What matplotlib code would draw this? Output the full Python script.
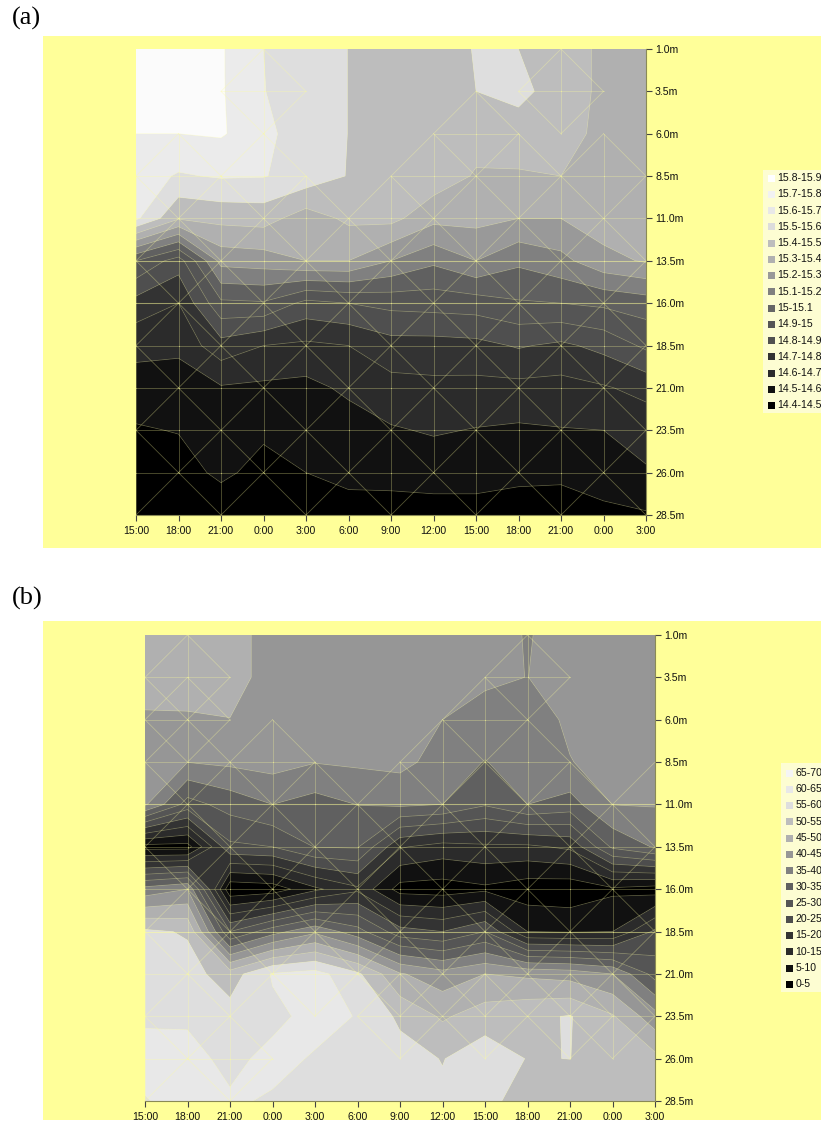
import numpy as np
import matplotlib
matplotlib.use("Agg")
from matplotlib import pyplot as plt
from matplotlib.patches import Rectangle

plt.rcParams['font.family'] = ['Liberation Sans', 'DejaVu Sans']

times = ["15:00", "18:00", "21:00", "0:00", "3:00", "6:00", "9:00", "12:00",
         "15:00", "18:00", "21:00", "0:00", "3:00"]
depths = [1.0, 3.5, 6.0, 8.5, 11.0, 13.5, 16.0, 18.5, 21.0, 23.5, 26.0, 28.5]
depth_labels = ["1.0m", "3.5m", "6.0m", "8.5m", "11.0m", "13.5m", "16.0m",
                "18.5m", "21.0m", "23.5m", "26.0m", "28.5m"]

# one list per time step, top to bottom in depth
temp_by_time = [
    [15.75, 15.75, 15.70, 15.65, 15.62, 15.0, 14.76, 14.63, 14.555, 14.49, 14.45, 14.42],
    [15.75, 15.75, 15.70, 15.59, 15.41, 14.85, 14.70, 14.63, 14.53, 14.505, 14.45, 14.42],
    [15.71, 15.71, 15.71, 15.61, 15.43, 15.235, 14.98, 14.76, 14.59, 14.53, 14.525, 14.42],
    [15.60, 15.605, 15.64, 15.605, 15.44, 15.25, 14.99, 14.70, 14.58, 14.52, 14.46, 14.42],
    [15.52, 15.52, 15.52, 15.56, 15.35, 15.30, 14.87, 14.68, 14.57, 14.52, 14.50, 14.42],
    [15.4995, 15.4995, 15.4995, 15.495, 15.42, 15.30, 14.9, 14.70, 14.62, 14.55, 14.52, 14.47],
    [15.45, 15.45, 15.45, 15.45, 15.43, 15.2, 14.93, 14.76, 14.665, 14.59, 14.53, 14.46],
    [15.46, 15.46, 15.46, 15.46, 15.33, 15.12, 14.94, 14.76, 14.675, 14.61, 14.54, 14.46],
    [15.505, 15.50, 15.44, 15.39, 15.33, 15.2, 14.95, 14.77, 14.67, 14.595, 14.54, 14.46],
    [15.50, 15.53, 15.45, 15.39, 15.3, 15.12, 14.99, 14.81, 14.67, 14.585, 14.52, 14.46],
    [15.45, 15.45, 15.43, 15.40, 15.30, 15.17, 15.0, 14.78, 14.665, 14.595, 14.52, 14.45],
    [15.38, 15.38, 15.38, 15.38, 15.35, 15.27, 15.02, 14.83, 14.69, 14.60, 14.54, 14.48],
    [15.36, 15.36, 15.36, 15.36, 15.34, 15.31, 15.05, 14.92, 14.73, 14.64, 14.59, 14.49],
]
oxygen_by_time = [
    [46, 46, 44.7, 42, 40.7, 3, 37, 56, 57, 59.2, 62, 59.7],
    [47, 47, 44.5, 40.1, 28, 3, 40, 54.5, 57, 59.3, 61.5, 62],
    [47, 47, 44.9, 41, 32, 24, 1, 25, 52.5, 57, 58.8, 60.6],
    [43, 43, 42.5, 42, 35, 25, 2, 33, 60.5, 58.8, 61.3, 59.5],
    [43, 43, 43, 40.2, 33, 30.2, 9, 39, 62, 61.5, 59.6, 58.5],
    [43, 43, 43, 40.8, 35.1, 30.5, 14, 32, 56, 59.8, 58, 58],
    [42, 42, 42, 41.4, 36, 15.5, 3, 22, 45.5, 54, 57, 58],
    [42, 42, 40, 38, 35, 13, 2.5, 20, 42, 49.3, 54.8, 56],
    [42, 40.7, 38.5, 34.8, 30.5, 14, 4, 25, 45, 52.5, 58, 57],
    [39.7, 39.95, 38.6, 37.5, 35, 14, 2, 10, 44, 54, 54.8, 52],
    [42, 42, 40.5, 39.9, 33, 16, 1.5, 9.5, 43, 55.3, 55.05, 52],
    [42, 42, 42, 41, 40.1, 31, 4, 10, 40, 50.5, 53, 52],
    [42, 42, 42, 42, 40.3, 35.5, 2.5, 21, 28, 42, 51.5, 52],
]

temp_levels = [14.4, 14.5, 14.6, 14.7, 14.8, 14.9, 15.0, 15.1, 15.2, 15.3, 15.4, 15.5, 15.6, 15.7, 15.8, 15.9]
oxygen_levels = [0, 5, 10, 15, 20, 25, 30, 35, 40, 45, 50, 55, 60, 65, 70]

temp_labels = ["15.8-15.9", "15.7-15.8", "15.6-15.7", "15.5-15.6", "15.4-15.5",
               "15.3-15.4", "15.2-15.3", "15.1-15.2", "15-15.1", "14.9-15",
               "14.8-14.9", "14.7-14.8", "14.6-14.7", "14.5-14.6", "14.4-14.5"]
oxygen_labels = ["65-70", "60-65", "55-60", "50-55", "45-50", "40-45", "35-40",
                 "30-35", "25-30", "20-25", "15-20", "10-15", "5-10", "0-5"]

temp_colors = ['#000000', '#111111', '#2b2b2b', '#333333', '#4f4f4f', '#555555',
               '#606060', '#808080', '#999999', '#b0b0b0', '#bdbdbd', '#dedede',
               '#ebebeb', '#fbfbfb', '#fbfbfb']
oxygen_colors = ['#000000', '#111111', '#2b2b2b', '#333333', '#4d4d4d', '#555555',
                 '#606060', '#808080', '#969696', '#b0b0b0', '#bdbdbd', '#dedede',
                 '#e8e8e8', '#f5f5f5']
temp_swatches = ['#ffffff', '#f2f2f2', '#e8e8e8', '#dcdcdc', '#bdbdbd', '#b0b0b0',
                 '#999999', '#808080', '#666666', '#555555', '#505050', '#333333',
                 '#2b2b2b', '#111111', '#000000']
oxygen_swatches = ['#f5f5f5', '#e8e8e8', '#dedede', '#bdbdbd', '#b0b0b0', '#969696',
                   '#808080', '#606060', '#555555', '#4d4d4d', '#333333', '#2b2b2b',
                   '#111111', '#000000']

# nodes (time index, depth index) where the plot's triangle mesh has a diamond
mesh_a = [(3, 1), (10, 1), (8, 2), (1, 3), (3, 3), (7, 3), (9, 3), (11, 3)]
mesh_b = [(1, 1), (1, 2), (8, 2), (9, 1), (7, 3), (9, 3), (1, 3), (3, 3),
          (1, 9), (6, 9), (8, 9), (10, 9), (0, 10), (2, 10), (11, 9)]
mesh_rows_a = [4, 5, 6, 7, 8, 9, 10]
mesh_rows_b = [4, 5, 6, 7, 8]
# depth rows with a line right across the plot
full_rows_a = [5, 6]
full_rows_b = [4, 7]

W, H = 821, 1130
YELLOW = '#ffff99'
PANEL_EDGE = '#8a8a55'
MESH = '#ffff99'


def make_axes(fig, left, top, right, bottom):
    return fig.add_axes([left / W, 1 - bottom / H, (right - left) / W, (bottom - top) / H])


def draw_mesh(ax, centers, mesh_rows, full_rows, n_t, n_d):
    nodes = list(centers)
    for r in mesh_rows:
        for c in range(n_t):
            if (c + r) % 2 == 0:
                nodes.append((c, r))
    edges = set()
    for c, r in nodes:
        around = [(c, r - 1), (c + 1, r), (c, r + 1), (c - 1, r)]
        around = [p for p in around if 0 <= p[0] < n_t and 0 <= p[1] < n_d]
        for p in around:
            edges.add(tuple(sorted([(c, r), p])))
        for i, p in enumerate(around):
            q = around[(i + 1) % len(around)]
            if abs(p[0] - q[0]) == 1 and abs(p[1] - q[1]) == 1:
                edges.add(tuple(sorted([p, q])))
    for (a, b), (a2, b2) in edges:
        ax.plot([a, a2], [depths[b], depths[b2]], color=MESH, lw=0.6, alpha=0.33)
    for r in full_rows:
        ax.plot([0, n_t - 1], [depths[r], depths[r]], color=MESH, lw=0.8, alpha=0.35)


def contour_panel(fig, box, values, levels, colors, centers, mesh_rows, full_rows):
    ax = make_axes(fig, *box)
    grid = np.array(values).T
    x = np.arange(len(times))
    ax.contourf(x, depths, grid, levels=levels, colors=colors, antialiased=True)
    ax.contourf(x, depths, grid, levels=levels, colors=colors, antialiased=True)
    ax.contour(x, depths, grid, levels=levels, colors=MESH, linewidths=0.5, alpha=0.3)
    draw_mesh(ax, centers, mesh_rows, full_rows, len(times), len(depths))
    ax.set_xlim(0, len(times) - 1)
    ax.set_ylim(depths[-1], depths[0])
    ax.set_xticks(x)
    ax.set_xticklabels(times)
    ax.set_yticks(depths)
    ax.set_yticklabels(depth_labels)
    ax.yaxis.tick_right()
    ax.tick_params(axis='x', labelsize=7.6, length=4, width=0.8, color='#444444',
                   labelcolor='#111111', pad=4)
    ax.tick_params(axis='y', labelsize=7.6, length=4, width=0.8, color='#444444',
                   labelcolor='#111111', pad=2.5)
    ax.spines['top'].set_visible(False)
    ax.spines['left'].set_visible(False)
    ax.spines['right'].set_color(PANEL_EDGE)
    ax.spines['bottom'].set_color(PANEL_EDGE)
    return ax


def legend_box(bg, box_left, box_top, box_bottom, first_y, labels, swatches):
    bg.add_patch(Rectangle((box_left, box_top), W - box_left, box_bottom - box_top,
                           facecolor='#fdfdd2', edgecolor='none'))
    for i, (lab, col) in enumerate(zip(labels, swatches)):
        y = first_y + i * 16.25
        bg.add_patch(Rectangle((box_left + 5, y - 3.5), 7, 7, facecolor=col, edgecolor='none'))
        bg.text(box_left + 14.5, y, lab, fontsize=7.6, va='center', ha='left',
                color='#111111', clip_on=True)


fig = plt.figure(figsize=(W / 100, H / 100), dpi=100, facecolor='white')
bg = fig.add_axes([0, 0, 1, 1])
bg.set_xlim(0, W)
bg.set_ylim(H, 0)
bg.axis('off')
bg.add_patch(Rectangle((43, 36), W - 43, 512, facecolor=YELLOW, edgecolor='none'))
bg.add_patch(Rectangle((43, 621), W - 43, 499, facecolor=YELLOW, edgecolor='none'))
bg.text(12, 18, "(a)", fontsize=19, family='Liberation Serif', va='center', ha='left')
bg.text(12, 598, "(b)", fontsize=19, family='Liberation Serif', va='center', ha='left')
legend_box(bg, 763, 170, 413, 178, temp_labels, temp_swatches)
legend_box(bg, 781, 763, 992, 773, oxygen_labels, oxygen_swatches)

contour_panel(fig, (136, 49, 646, 515), temp_by_time, temp_levels, temp_colors,
              mesh_a, mesh_rows_a, full_rows_a)
contour_panel(fig, (145, 635, 655, 1101), oxygen_by_time, oxygen_levels, oxygen_colors,
              mesh_b, mesh_rows_b, full_rows_b)

fig.savefig("out.png", dpi=100, facecolor='white')
